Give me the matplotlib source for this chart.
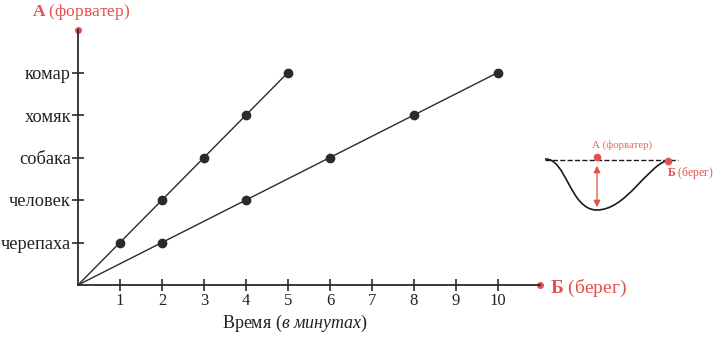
import numpy as np
import matplotlib.pyplot as plt
from matplotlib.path import Path
from matplotlib.patches import PathPatch

plt.rcParams['font.family'] = ['Liberation Serif', 'DejaVu Serif']
plt.rcParams['mathtext.fontset'] = 'custom'
plt.rcParams['mathtext.rm'] = 'Liberation Serif'
plt.rcParams['mathtext.it'] = 'Liberation Serif:italic'
plt.rcParams['mathtext.bf'] = 'Liberation Serif:bold'

###############################
# data
###############################
animals = ['черепаха', 'человек', 'собака', 'хомяк', 'комар']
levels = [1, 2, 3, 4, 5]

# fast line: one level per minute
fast_t = [0, 1, 2, 3, 4, 5]
fast_y = [0, 1, 2, 3, 4, 5]

# slow line: one level per two minutes
slow_t = [0, 2, 4, 6, 8, 10]
slow_y = [0, 1, 2, 3, 4, 5]

minutes = [1, 2, 3, 4, 5, 6, 7, 8, 9, 10]

red = '#e2514c'
dark = '#2b2b2b'

###############################
# main chart
###############################
W, H = 725, 337
fig = plt.figure(figsize=(W / 100, H / 100), dpi=100)
x0, y0 = 78, 285
ax = fig.add_axes([x0 / W, (H - y0) / H, 462 / W, 255 / H])
ax.set_xlim(0, 11)
ax.set_ylim(0, 6)

for s in ['top', 'right']:
    ax.spines[s].set_visible(False)
for s in ['left', 'bottom']:
    ax.spines[s].set_color(dark)
    ax.spines[s].set_linewidth(1.3)

ax.plot(fast_t, fast_y, color=dark, lw=1.0, marker='o', ms=6,
        markevery=list(range(1, len(fast_t))), clip_on=False)
ax.plot(slow_t, slow_y, color=dark, lw=1.0, marker='o', ms=6,
        markevery=list(range(1, len(slow_t))), clip_on=False)

# red end points of the axes
ax.plot([0], [6], 'o', color=red, ms=4, clip_on=False)
ax.plot([11], [0], 'o', color=red, ms=4, clip_on=False)

ax.set_xticks(minutes)
ax.set_xticklabels([str(m) for m in minutes], fontsize=12)
ax.set_yticks(levels)
ax.set_yticklabels(animals, fontsize=13.2)
ax.tick_params(axis='both', direction='inout', length=8, width=1.2,
               color=dark, labelcolor='#222222')
ax.tick_params(axis='x', pad=2)
ax.tick_params(axis='y', pad=1)

fig.text(222 / W, 1 - 323 / H, r'Время ($\it{в\ минутах}$)',
         fontsize=13, va='center', ha='left', color='#222222')
fig.text(32 / W, 1 - 12 / H, r'$\bf{А}$ (форватер)',
         fontsize=12.5, va='center', ha='left', color=red)
fig.text(550 / W, 1 - 288 / H, r'$\bf{Б}$ (берег)',
         fontsize=14, va='center', ha='left', color=red)

###############################
# inset: river cross-section
###############################
ax2 = fig.add_axes([540 / W, (H - 222) / H, 185 / W, 90 / H])
ax2.set_xlim(540, 725)
ax2.set_ylim(222, 132)
ax2.axis('off')

bank = Path([(545, 159), (566, 158), (570, 209), (596, 210),
             (626, 211), (648, 164), (669, 160)],
            [Path.MOVETO, Path.CURVE4, Path.CURVE4, Path.CURVE4,
             Path.CURVE4, Path.CURVE4, Path.CURVE4])
ax2.add_patch(PathPatch(bank, fill=False, color='#1a1a1a', lw=1.2))
ax2.plot([545, 678], [160, 160], '--', color='#1a1a1a', lw=1.0)
ax2.plot([597, 668], [157, 160.5], 'o', color=red, ms=4.5)
ax2.annotate('', xy=(597, 210), xytext=(597, 163),
             arrowprops=dict(arrowstyle='<|-|>', color=red, lw=0.9,
                             mutation_scale=10))
ax2.text(592, 145, 'А (форватер)', fontsize=7.8, color='#e06a64', va='center')
ax2.text(667, 173, r'$\bf{Б}$ (берег)', fontsize=8.5, color=red, va='center')

fig.savefig('out.png', dpi=100)
